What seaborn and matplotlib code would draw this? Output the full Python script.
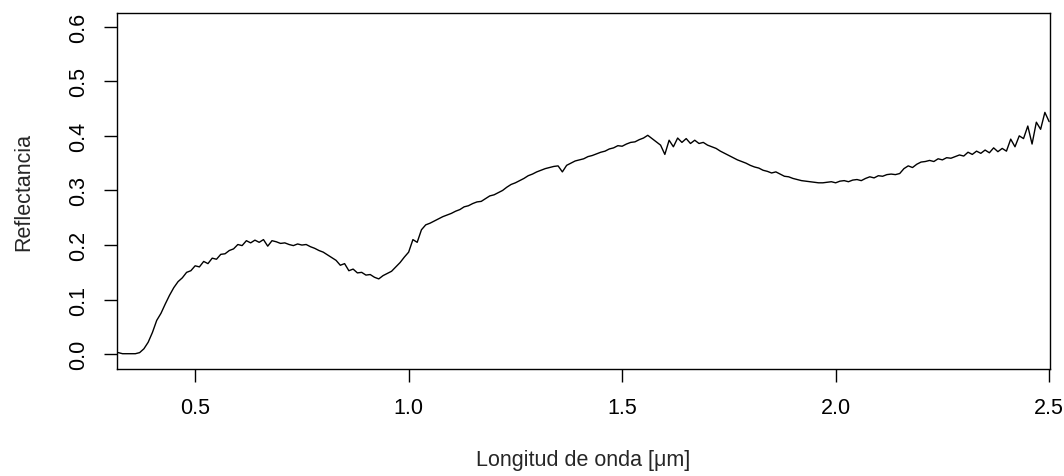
import numpy as np
import pandas as pd
import matplotlib
matplotlib.use("Agg")
import matplotlib.pyplot as plt
import seaborn as sns

wavelength = np.round(np.arange(0.32, 2.5001, 0.01), 2)
reflectance = [
    0.003, 0.001, 0.001, 0.001, 0.001, 0.003, 0.010, 0.022, 0.040, 0.062,
    0.075, 0.092, 0.108, 0.122, 0.133, 0.140, 0.150, 0.153, 0.162, 0.160,
    0.170, 0.166, 0.176, 0.174, 0.183, 0.184, 0.190, 0.193, 0.201, 0.199,
    0.208, 0.204, 0.209, 0.205, 0.210, 0.198, 0.208, 0.206, 0.203, 0.204,
    0.201, 0.199, 0.202, 0.200, 0.201, 0.197, 0.194, 0.190, 0.187, 0.182,
    0.177, 0.172, 0.163, 0.166, 0.153, 0.156, 0.149, 0.150, 0.145, 0.146,
    0.141, 0.138, 0.144, 0.148, 0.152, 0.160, 0.168, 0.178, 0.187,
    0.210, 0.205, 0.228, 0.237, 0.240, 0.244, 0.248, 0.252, 0.255, 0.258,
    0.262, 0.265, 0.270, 0.272, 0.276, 0.279, 0.280, 0.285, 0.290, 0.292,
    0.296, 0.300, 0.306, 0.311, 0.314, 0.318, 0.322, 0.327, 0.330, 0.334,
    0.337, 0.340, 0.342, 0.344, 0.345, 0.334, 0.346, 0.350, 0.354, 0.356,
    0.358, 0.362, 0.364, 0.367, 0.370, 0.372, 0.376, 0.378, 0.382, 0.381,
    0.385, 0.388, 0.389, 0.393, 0.396, 0.401, 0.395, 0.389, 0.383, 0.366,
    0.392, 0.380, 0.396, 0.388, 0.395, 0.386, 0.392, 0.386, 0.388, 0.383,
    0.380, 0.377, 0.372, 0.368, 0.364, 0.360, 0.356, 0.353, 0.350, 0.346,
    0.343, 0.341, 0.337, 0.335, 0.332, 0.334, 0.330, 0.326, 0.325, 0.322,
    0.320, 0.318, 0.317, 0.316, 0.315, 0.314, 0.314, 0.315, 0.316, 0.314,
    0.317, 0.318, 0.316, 0.319, 0.320, 0.318, 0.322, 0.325, 0.323, 0.327,
    0.326, 0.329, 0.330, 0.329, 0.331, 0.340, 0.345, 0.342, 0.348, 0.352,
    0.353, 0.355, 0.353, 0.358, 0.356, 0.360, 0.359, 0.362, 0.365, 0.363,
    0.370, 0.366, 0.372, 0.368, 0.374, 0.369, 0.378, 0.371, 0.377, 0.372,
    0.394, 0.380, 0.400, 0.395, 0.418, 0.385, 0.425, 0.412, 0.443, 0.426,
]
x_ticks = [0.5, 1.0, 1.5, 2.0, 2.5]
y_ticks = [0.0, 0.1, 0.2, 0.3, 0.4, 0.5, 0.6]

df = pd.DataFrame({"wl": wavelength, "r": reflectance})

sns.set_style("ticks")
plt.rcParams["font.family"] = ["Liberation Sans", "DejaVu Sans"]

W, H = 1064, 477
fig = plt.figure(figsize=(W / 100, H / 100), dpi=100)
ax = fig.add_axes([117 / W, 1 - 370 / H, (1050 - 117) / W, (370 - 14) / H])
sns.lineplot(data=df, x="wl", y="r", ax=ax, color="black", linewidth=1.0)

ax.set_xlim(0.317, 2.502)
ax.set_ylim(-0.027, 0.625)
ax.set_xticks(x_ticks)
ax.set_xticklabels([f"{v:.1f}" for v in x_ticks])
ax.set_yticks(y_ticks)
ax.set_yticklabels([f"{v:.1f}" for v in y_ticks], rotation=90, va="center")
for s in ax.spines.values():
    s.set_visible(True)
    s.set_color("black")
    s.set_linewidth(1.0)
ax.tick_params(direction="out", length=9.5, width=1, colors="black",
               labelsize=15.5, pad=10.5)
ax.set_xlabel("Longitud de onda [μm]", fontsize=15.5)
ax.set_ylabel("Reflectancia", fontsize=15.5)
ax.xaxis.set_label_coords(0.5, -(450 - 370) / 356)
ax.yaxis.set_label_coords(-(117 - 34) / 933, 0.5)

fig.savefig("out.png", dpi=100)
